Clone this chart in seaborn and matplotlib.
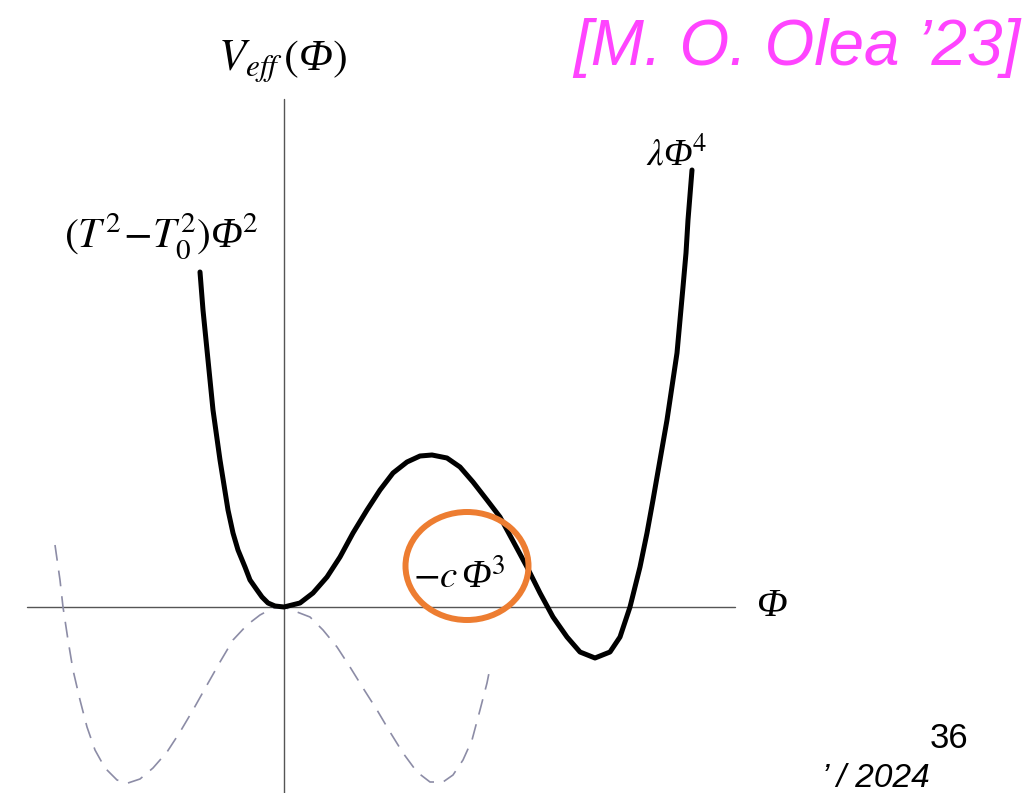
"""Effective potential V_eff(Phi) sketch: first-order transition shape vs. the
symmetric double well (dashed)."""

import matplotlib

matplotlib.use("Agg")
import matplotlib.pyplot as plt
import seaborn as sns
from matplotlib.patches import Ellipse

# V_eff(Phi) (Phi, V in arbitrary units, origin at the axes cross)
phi_eff = [-0.84, -0.81, -0.76, -0.71, -0.64, -0.56, -0.51, -0.46, -0.39, -0.34,
           -0.27, -0.22, -0.16, -0.09, 0.00, 0.16, 0.29, 0.43, 0.56, 0.69,
           0.83, 0.96, 1.09, 1.23, 1.36, 1.48, 1.63, 1.76, 1.89, 2.03,
           2.16, 2.29, 2.43, 2.56, 2.69, 2.83, 2.96, 3.11, 3.26, 3.36,
           3.46, 3.56, 3.63, 3.69, 3.76, 3.83, 3.93, 3.96, 3.99, 4.02,
           4.04, 4.06, 4.08]
v_eff = [3.35, 2.97, 2.47, 1.97, 1.47, 0.97, 0.74, 0.57, 0.40, 0.27,
         0.17, 0.10, 0.04, 0.01, 0.00, 0.04, 0.14, 0.30, 0.50, 0.74,
         0.97, 1.17, 1.34, 1.45, 1.51, 1.52, 1.49, 1.40, 1.25, 1.07,
         0.90, 0.66, 0.40, 0.14, -0.10, -0.30, -0.45, -0.51, -0.45, -0.30,
         0.00, 0.40, 0.74, 1.07, 1.47, 1.87, 2.54, 2.87, 3.20, 3.54,
         3.87, 4.12, 4.37]

# dashed symmetric double well
phi_dw = [-2.29, -2.24, -2.21, -2.16, -2.11, -2.04, -1.97, -1.89, -1.79, -1.67,
          -1.56, -1.44, -1.31, -1.17, -1.04, -0.91, -0.77, -0.64, -0.51, -0.37,
          -0.24, -0.11, 0.00, 0.13, 0.26, 0.39, 0.53, 0.66, 0.79, 0.93,
          1.06, 1.19, 1.33, 1.46, 1.59, 1.69, 1.79, 1.88, 1.96, 2.03, 2.06]
v_dw = [0.62, 0.27, 0.00, -0.33, -0.63, -0.93, -1.20, -1.43, -1.61, -1.73,
        -1.76, -1.72, -1.61, -1.45, -1.25, -1.03, -0.78, -0.55, -0.33, -0.18,
        -0.08, -0.01, 0.00, -0.05, -0.10, -0.23, -0.40, -0.60, -0.81, -1.03,
        -1.25, -1.46, -1.65, -1.75, -1.75, -1.68, -1.53, -1.33, -1.03, -0.76, -0.61]

# labels: maths via mathtext, the italic Phi as plain italic serif text
term_labels = [r"$(T^2\!-\!T_0^2)$Φ$^2$", r"$\lambda$Φ$^4$", r"$-c\,$Φ$^3$"]
y_label = r"$V_{eff}\,($Φ$)$"
x_label = "Φ"
citation = "[M. O. Olea \u201923]"
page_number = "36"
footer = "\u2019 / 2024"

sns.set_style("white")
plt.rcParams["mathtext.fontset"] = "stix"
plt.rcParams["font.family"] = ["Liberation Sans", "DejaVu Sans"]
plt.rcParams["text.color"] = "black"
SERIF = ["Liberation Serif", "DejaVu Serif"]

fig = plt.figure(figsize=(10.26, 7.93), dpi=100)
ax = fig.add_axes([0, 0, 1, 1])
ax.set_xlim(-2.84, 7.42)
ax.set_ylim(-1.86, 6.07)
ax.axis("off")

# coordinate axes
ax.plot([0, 0], [-1.86, 5.08], color="#555555", lw=1.0, zorder=1)
ax.plot([-2.57, 4.51], [0, 0], color="#555555", lw=1.0, zorder=1)

sns.lineplot(x=phi_dw, y=v_dw, ax=ax, color="#8c8ca6", lw=1.2,
             estimator=None, zorder=2)
ax.lines[-1].set_dashes((9.5, 6))
sns.lineplot(x=phi_eff, y=v_eff, ax=ax, color="black", lw=3.6,
             estimator=None, zorder=3)
ax.lines[-1].set_solid_joinstyle("round")

ax.add_patch(Ellipse((1.83, 0.41), 1.23, 1.08, fill=False,
                     edgecolor="#ED7D31", lw=4.3, zorder=4))

ax.text(-0.01, 5.37, y_label, fontsize=32, family=SERIF, style="italic",
        ha="center", va="baseline")
ax.text(-1.23, 3.59, term_labels[0], fontsize=30, family=SERIF, style="italic",
        ha="center", va="baseline")
ax.text(3.93, 4.42, term_labels[1], fontsize=27, family=SERIF, style="italic",
        ha="center", va="baseline")
ax.text(1.75, 0.19, term_labels[2], fontsize=28, family=SERIF, style="italic",
        ha="center", va="baseline")
ax.text(4.87, -0.09, x_label, fontsize=29, family=SERIF, style="italic",
        ha="center", va="baseline")

ax.text(7.36, 5.42, citation, fontsize=46, style="italic", color="#FF44FF",
        ha="right", va="baseline")
ax.text(6.84, -1.41, page_number, fontsize=25, ha="right", va="baseline")
ax.text(6.46, -1.80, footer, fontsize=24, style="italic", ha="right", va="baseline")

fig.savefig("out.png", dpi=100)
